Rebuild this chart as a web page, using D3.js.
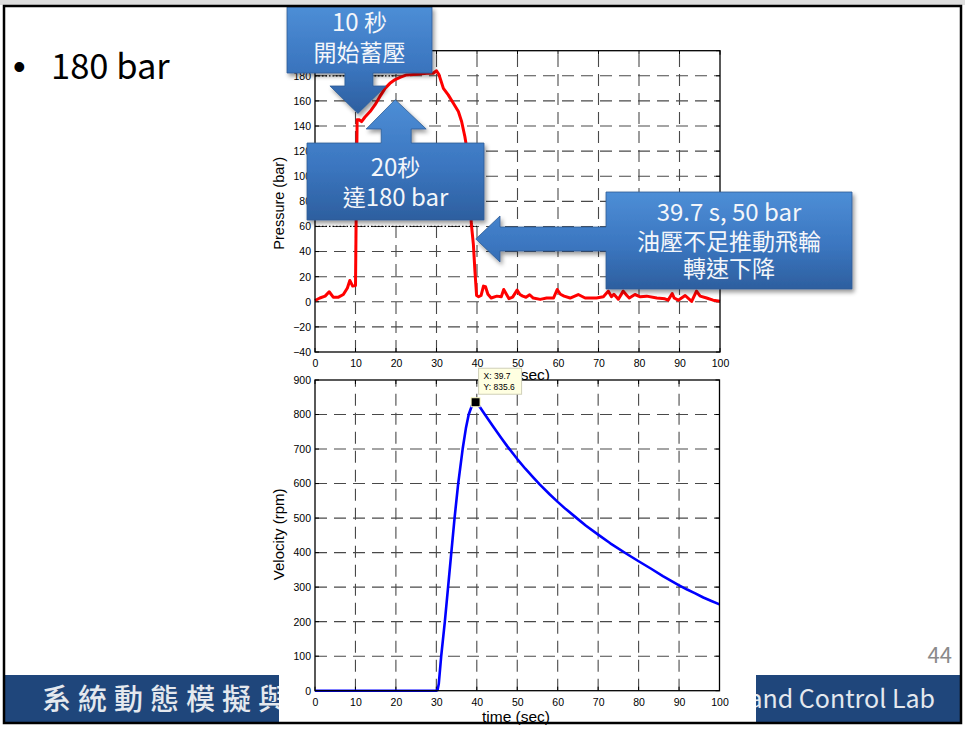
<!DOCTYPE html>
<html>
<head>
<meta charset="utf-8">
<script src="https://cdn.jsdelivr.net/npm/d3@7"></script>
<style>
  html, body { margin: 0; padding: 0; background: #fff; }
  svg { display: block; }
</style>
</head>
<body>
<svg id="slide" width="965" height="730"></svg>
<script>
// Accumulator pressure measured on the rig (bar) against time (s)
const pressureTime = [0, 1.2, 2.5, 3.5, 4.5, 5.8, 7.0, 8.0, 8.6, 9.3, 10.0, 10.4, 10.9, 11.5, 12.3,
  13.6, 14.8, 16.0, 17.3, 18.5, 19.8, 21.0, 22.6, 25.1, 27.6, 29.2, 30.0, 30.6, 31.7, 32.9, 34.2,
  35.4, 36.2, 37.0, 37.6, 38.2, 38.6, 39.1, 39.5, 39.9, 40.4, 41.0, 41.6, 42.1, 42.7, 43.5, 44.9,
  46.0, 46.6, 47.9, 48.8, 49.9, 50.6, 51.3, 52.1, 53.0, 53.9, 55.6, 57.2, 58.9, 59.8, 60.6, 61.5,
  63.0, 65.0, 66.7, 69.5, 71.2, 72.4, 73.2, 73.8, 74.9, 76.1, 77.0, 77.6, 79.0, 80.3, 81.9, 84.4,
  86.4, 87.2, 88.2, 88.7, 89.7, 91.4, 93.0, 94.2, 95.1, 96.7, 98.3, 100];
const pressureBar = [1, 3, 4.5, 8, 3.7, 3.7, 5.8, 11, 17, 12.5, 13, 145, 145, 143.5, 147,
  151.5, 156.8, 163.4, 170, 174, 177, 178.8, 180.7, 181.2, 182, 182, 184, 181, 170, 164.8, 158,
  151.5, 143.6, 131.7, 120, 95, 62, 46, 24, 5, 4, 5, 12.5, 12, 6, 3, 4.5,
  4, 9.8, 2.5, 3.7, 9.3, 5.8, 4.5, 3.6, 5.6, 3, 1.9, 3, 3, 9.8, 6, 4.5,
  3, 5.8, 3, 3, 4, 8.5, 4, 6, 2, 8.5, 5, 3, 5.8, 4, 4.5, 3,
  2.4, 1.3, 6.6, 3, 1.3, 5, 0.3, 8.5, 4.5, 3, 1.3, 0.5];

// Flywheel speed (rpm) against time (s)
const velocityTime = [0, 10, 20, 30, 30.3, 30.6, 31.2, 32.1, 32.9, 33.7, 34.5, 35.4, 36.5, 37.3,
  38.0, 38.8, 39.7, 40.5, 42.0, 44.0, 46.0, 47.6, 50.0, 52.0, 54.0, 55.6, 58.0, 60.0, 62.0, 65.0,
  67.0, 70.0, 73.0, 77.1, 80.0, 83.0, 86.0, 89.9, 92.0, 94.0, 96.0, 98.0, 100];
const velocityRpm = [0, 0, 0, 0, 2, 20, 100, 200, 300, 400, 500, 600, 700, 760,
  800, 826, 835.6, 826, 800, 766, 733, 707, 671, 643, 617, 597, 569, 547, 526, 497,
  478, 452, 427, 396, 375, 354, 332, 306, 293, 282, 270, 260, 250];

const timeTicks = [0, 10, 20, 30, 40, 50, 60, 70, 80, 90, 100];
const pressureTicks = [-40, -20, 0, 20, 40, 60, 80, 100, 120, 140, 160, 180, 200];
const velocityTicks = [0, 100, 200, 300, 400, 500, 600, 700, 800, 900];

// Data cursor on the velocity peak
const tipTime = 39.7;
const tipRpm = 835.6;

const svg = d3.select('#slide');
const CJK = '"Noto Sans CJK TC", "Noto Sans", sans-serif';
const PLOT_FONT = '"Liberation Sans", Arial, Helvetica, sans-serif';

// ---------- slide frame ----------
svg.append('rect').attr('x', 0).attr('y', 0).attr('width', 965).attr('height', 730).attr('fill', '#fff');
svg.append('rect').attr('x', 0).attr('y', 0).attr('width', 965).attr('height', 5).attr('fill', '#dedede');

// footer banner
svg.append('rect').attr('x', 4).attr('y', 675).attr('width', 957).attr('height', 47).attr('fill', '#1f467b');
svg.append('text').attr('x', 42).attr('y', 710)
  .attr('font-family', CJK).attr('font-size', 29).attr('font-weight', 500)
  .attr('letter-spacing', 7).attr('fill', '#e4e8ee').text('系統動態模擬與');
svg.append('text').attr('x', 935).attr('y', 708).attr('text-anchor', 'end')
  .attr('font-family', CJK).attr('font-size', 25).attr('fill', '#e4e8ee').text('and Control Lab');

// page number
svg.append('text').attr('x', 952).attr('y', 663).attr('text-anchor', 'end')
  .attr('font-family', CJK).attr('font-size', 22).attr('fill', '#8a8a8a').text('44');

// bullet line
svg.append('text').attr('x', 13).attr('y', 79)
  .attr('font-family', '"Liberation Sans", Arial, sans-serif').attr('font-size', 36).attr('fill', '#000').text('•');
svg.append('text').attr('x', 51).attr('y', 79)
  .attr('font-family', CJK).attr('font-size', 34.5).attr('fill', '#000').text('180 bar');

// white figure panel sitting on the banner
svg.append('rect').attr('x', 279).attr('y', 40).attr('width', 477).attr('height', 682).attr('fill', '#fff');

// ---------- scales ----------
const xTop = d3.scaleLinear().domain([0, 100]).range([315, 720]);
const yTop = d3.scaleLinear().domain([-40, 200]).range([352, 50.7]);
const xBot = d3.scaleLinear().domain([0, 100]).range([315, 719.5]);
const yBot = d3.scaleLinear().domain([0, 900]).range([690.7, 380]);

function drawAxes(x, y, yTicks) {
  const [x0, x1] = x.range();
  const [y0, y1] = y.range();
  const g = svg.append('g');
  g.append('rect').attr('x', x0).attr('y', y1).attr('width', x1 - x0).attr('height', y0 - y1).attr('fill', '#fff');

  // dashed grid
  const grid = g.append('g').attr('stroke', '#2a2a2a').attr('stroke-width', 1.1)
    .attr('stroke-dasharray', '12,7').attr('opacity', 0.85);
  grid.selectAll('line.v').data(timeTicks.slice(1, -1)).join('line')
    .attr('x1', d => x(d)).attr('x2', d => x(d)).attr('y1', y0).attr('y2', y1);
  grid.selectAll('line.h').data(yTicks.slice(1, -1)).join('line').attr('class', 'h')
    .attr('x1', x0).attr('x2', x1).attr('y1', d => y(d)).attr('y2', d => y(d));

  // tick labels via d3 axes
  const ax = g.append('g').attr('transform', `translate(0,${y0})`)
    .call(d3.axisBottom(x).tickValues(timeTicks).tickSize(0).tickPadding(8).tickFormat(d3.format('d')));
  const ay = g.append('g').attr('transform', `translate(${x0},0)`)
    .call(d3.axisLeft(y).tickValues(yTicks).tickSize(0).tickPadding(4).tickFormat(d3.format('d')));
  [ax, ay].forEach(a => {
    a.select('.domain').remove();
    a.selectAll('text').attr('font-family', PLOT_FONT).attr('font-size', 10.5).attr('fill', '#000');
  });

  // inner tick marks on all four sides
  const tk = g.append('g').attr('stroke', '#000').attr('stroke-width', 1);
  timeTicks.forEach(d => {
    tk.append('line').attr('x1', x(d)).attr('x2', x(d)).attr('y1', y0).attr('y2', y0 - 4);
    tk.append('line').attr('x1', x(d)).attr('x2', x(d)).attr('y1', y1).attr('y2', y1 + 4);
  });
  yTicks.forEach(d => {
    tk.append('line').attr('x1', x0).attr('x2', x0 + 4).attr('y1', y(d)).attr('y2', y(d));
    tk.append('line').attr('x1', x1).attr('x2', x1 - 4).attr('y1', y(d)).attr('y2', y(d));
  });
  return g;
}

function frame(g, x, y) {
  const [x0, x1] = x.range();
  const [y0, y1] = y.range();
  g.append('rect').attr('x', x0).attr('y', y1).attr('width', x1 - x0).attr('height', y0 - y1)
    .attr('fill', 'none').attr('stroke', '#000').attr('stroke-width', 1.3);
}

// ---------- pressure plot ----------
const gTop = drawAxes(xTop, yTop, pressureTicks);

// dotted reference lines at 180 bar (reached at 20 s) and 60 bar (~40 s)
gTop.append('line').attr('x1', xTop(0)).attr('x2', xTop(20)).attr('y1', yTop(180)).attr('y2', yTop(180))
  .attr('stroke', '#000').attr('stroke-width', 1.3).attr('stroke-dasharray', '1.5,2');
gTop.append('line').attr('x1', xTop(0)).attr('x2', xTop(40)).attr('y1', yTop(60)).attr('y2', yTop(60))
  .attr('stroke', '#000').attr('stroke-width', 1.3).attr('stroke-dasharray', '1.5,2');

const pressureLine = d3.line().x(i => xTop(pressureTime[i])).y(i => yTop(pressureBar[i]));
gTop.append('path').attr('d', pressureLine(d3.range(pressureTime.length)))
  .attr('fill', 'none').attr('stroke', '#ff0000').attr('stroke-width', 3).attr('stroke-linejoin', 'round');
frame(gTop, xTop, yTop);

gTop.append('text').attr('transform', `translate(284,${(yTop(-40) + yTop(200)) / 2 + 2}) rotate(-90)`)
  .attr('text-anchor', 'middle').attr('font-family', PLOT_FONT).attr('font-size', 14.5).text('Pressure (bar)');
gTop.append('text').attr('x', 516).attr('y', 380).attr('text-anchor', 'middle')
  .attr('font-family', PLOT_FONT).attr('font-size', 15.5).text('time (sec)');

// ---------- velocity plot ----------
const gBot = drawAxes(xBot, yBot, velocityTicks);
const velocityLine = d3.line().x(i => xBot(velocityTime[i])).y(i => yBot(velocityRpm[i]));
gBot.append('path').attr('d', velocityLine(d3.range(velocityTime.length)))
  .attr('fill', 'none').attr('stroke', '#0000ff').attr('stroke-width', 2.6).attr('stroke-linejoin', 'round');
frame(gBot, xBot, yBot);

gBot.append('text').attr('transform', `translate(284,${(yBot(0) + yBot(900)) / 2 - 1}) rotate(-90)`)
  .attr('text-anchor', 'middle').attr('font-family', PLOT_FONT).attr('font-size', 15).text('Velocity (rpm)');
gBot.append('text').attr('x', 516).attr('y', 722).attr('text-anchor', 'middle')
  .attr('font-family', PLOT_FONT).attr('font-size', 15.5).text('time (sec)');

// data cursor
const mx = xBot(tipTime), my = yBot(tipRpm);
gBot.append('rect').attr('x', mx - 4.5).attr('y', my - 4.5).attr('width', 9).attr('height', 9)
  .attr('fill', '#000').attr('stroke', '#ffffc8').attr('stroke-width', 1);
const tip = gBot.append('g').attr('transform', `translate(${mx + 3},${my - 34})`);
tip.append('rect').attr('x', 0).attr('y', 0).attr('width', 43).attr('height', 26)
  .attr('fill', '#ffffe1').attr('stroke', '#d0d0b8').attr('stroke-width', 1);
tip.append('text').attr('x', 5).attr('y', 11).attr('font-family', PLOT_FONT).attr('font-size', 8.5)
  .text('X: ' + tipTime);
tip.append('text').attr('x', 5).attr('y', 22).attr('font-family', PLOT_FONT).attr('font-size', 8.5)
  .text('Y: ' + tipRpm);

// ---------- arrow callouts ----------
const defs = svg.append('defs');
const grad = defs.append('linearGradient').attr('id', 'calloutFill')
  .attr('x1', 0).attr('y1', 0).attr('x2', 0).attr('y2', 1);
grad.append('stop').attr('offset', '0%').attr('stop-color', '#4d8ed6');
grad.append('stop').attr('offset', '55%').attr('stop-color', '#3b76c0');
grad.append('stop').attr('offset', '100%').attr('stop-color', '#2d5f9f');
const shadow = defs.append('filter').attr('id', 'calloutShadow')
  .attr('x', '-10%').attr('y', '-10%').attr('width', '130%').attr('height', '130%');
shadow.append('feDropShadow').attr('dx', 2).attr('dy', 3).attr('stdDeviation', 2)
  .attr('flood-color', '#000').attr('flood-opacity', 0.4);

function callout(pathD, lines, cx, baselines) {
  const g = svg.append('g');
  g.append('path').attr('d', pathD).attr('fill', 'url(#calloutFill)')
    .attr('stroke', '#2d5c94').attr('stroke-width', 0.8).attr('filter', 'url(#calloutShadow)');
  lines.forEach((str, i) => {
    const t = g.append('text').attr('x', cx).attr('y', baselines[i]).attr('text-anchor', 'middle')
      .attr('font-family', CJK).attr('fill', '#f4f6fa');
    const runs = str.match(/[\u3000-\u9fff]+|[^\u3000-\u9fff]+/g);
    runs.forEach(r => t.append('tspan').text(r)
      .attr('font-size', /[\u3000-\u9fff]/.test(r) ? 23 : 24));
  });
}

// start of charging: down arrow pointing at 10.6 s, 150 bar
{
  const tx = xTop(10.6), ty = yTop(150);
  const d = `M287,7 H432 V73 H${tx + 15} V86 H${tx + 28} L${tx},${ty} L${tx - 28},86 H${tx - 13} V73 H287 Z`;
  callout(d, ['10 秒', '開始蓄壓'], 359.5, [31, 61]);
}
// reaching 180 bar: up arrow pointing at 19.8 s, 161 bar
{
  const tx = xTop(19.8), ty = yTop(161);
  const d = `M307,143 H${tx - 14} V129 H${tx - 29} L${tx},${ty} L${tx + 31},129 H${tx + 16} V143 H484 V220 H307 Z`;
  callout(d, ['20秒', '達180 bar'], 395.5, [176, 206]);
}
// pressure collapse: left arrow pointing at 39.7 s, 50 bar
{
  const tx = xTop(39.7), ty = yTop(50);
  const d = `M606,192 H852 V289 H606 V${ty + 12} H500 V${ty + 23} L${tx},${ty} L500,${ty - 23} V${ty - 12} H606 Z`;
  callout(d, ['39.7 s, 50 bar', '油壓不足推動飛輪', '轉速下降'], 729, [221, 250, 277]);
}

// slide border
svg.append('rect').attr('x', 4).attr('y', 6).attr('width', 957).attr('height', 717)
  .attr('fill', 'none').attr('stroke', '#000').attr('stroke-width', 2.5);
</script>
</body>
</html>
